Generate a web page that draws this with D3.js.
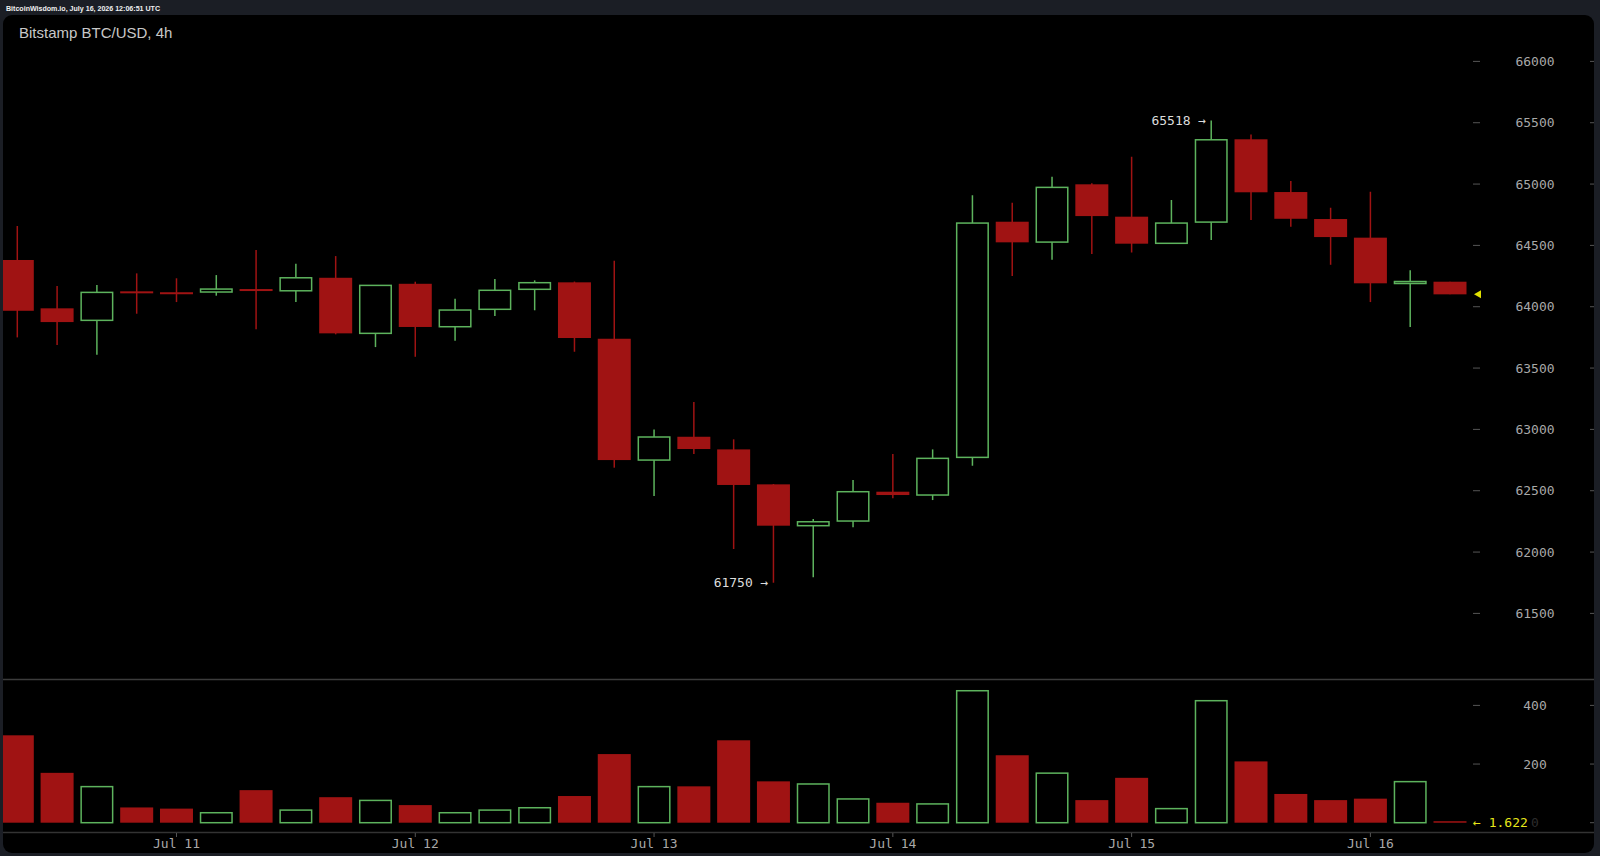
<!DOCTYPE html>
<html><head><meta charset="utf-8">
<script src="https://cdn.jsdelivr.net/npm/d3@7"></script>
<style>
html,body{margin:0;padding:0;background:#1b1e25;}
svg{display:block;}
</style></head>
<body>
<svg id="c" width="1600" height="856"></svg>
<script>
// ---- data (4h candles, Bitstamp BTC/USD) ----
const opens  = [64381,63987,63889,64120,64112,64120,64138,64130,64236,63783,64187,63837,63979,64142,64199,63739,62750,62940,62837,62552,62215,62253,62492,62465,62772,64693,64527,64998,64734,64517,64690,65365,64935,64715,64563,64195,64204];
const highs  = [64658,64169,64177,64272,64232,64258,64462,64350,64413,64174,64204,64065,64226,64215,64205,64375,63000,63223,62919,62555,62269,62587,62799,62837,64908,64848,65060,65006,65223,64870,65518,65405,65025,64807,64937,64297,64204];
const lows   = [63750,63688,63609,63943,64038,64090,63816,64038,63775,63671,63592,63723,63924,63971,63633,62688,62457,62799,62025,61750,61794,62202,62438,62424,62704,64250,64383,64430,64443,64517,64544,64707,64652,64342,64038,63835,64101];
const closes = [63967,63875,64117,64115,64108,64144,64134,64236,63783,64174,63835,63973,64134,64196,63745,62750,62938,62840,62547,62215,62247,62492,62465,62764,64682,64525,64973,64739,64514,64682,65361,64933,64717,64568,64191,64200,64101];
const volumes = [298,170,123,52,48,34,111,43,87,76,60,34,43,51,91,234,123,124,281,141,132,81,68,64,450,230,169,77,153,48,416,209,98,77,82,140,1.622];
const dayLabels = ["Jul 11","Jul 12","Jul 13","Jul 14","Jul 15","Jul 16"];
const dayIndex  = [4,10,16,22,28,34];
const priceTicks = [61500,62000,62500,63000,63500,64000,64500,65000,65500,66000];
const volTicks = [0,200,400];
const headerText = "BitcoinWisdom.io, July 16, 2026 12:06:51 UTC";
const titleText = "Bitstamp BTC/USD, 4h";
const maxLabel = "65518 →";
const minLabel = "61750 →";
const lastVolLabel = "← 1.622";

const RED = "#a01313", GREEN = "#5db35d";
const svg = d3.select("#c");
const mono = "'DejaVu Sans Mono', monospace";

svg.append("defs").append("clipPath").attr("id","panel")
  .append("rect").attr("x",3).attr("y",15).attr("width",1591).attr("height",838).attr("rx",9);

// background panel
svg.append("rect").attr("x",0).attr("y",0).attr("width",1600).attr("height",856).attr("fill","#1b1e25");
svg.append("rect").attr("x",3).attr("y",15).attr("width",1591).attr("height",838).attr("rx",9).attr("fill","#000");

svg.append("text").attr("x",6).attr("y",10.5).attr("fill","#f0f0f0")
  .attr("font-family","'Liberation Sans', Arial, sans-serif").attr("font-weight","bold")
  .attr("font-size",7.5).attr("textLength",154).attr("lengthAdjust","spacingAndGlyphs").text(headerText);
svg.append("text").attr("x",19).attr("y",38).attr("fill","#c8c8c8")
  .attr("font-family","'Liberation Sans', Arial, sans-serif").attr("font-size",15).text(titleText);

const g = svg.append("g").attr("clip-path","url(#panel)");

// scales
const n = opens.length;
const x = d3.scaleLinear().domain([0, n-1]).range([17.3, 1450]);
const bw = 33;
const y = d3.scaleLinear().domain([61500,66000]).range([613.4,61.4]);
const yv = d3.scaleLinear().domain([0,400]).range([822.7,705.4]);

// separators
g.append("line").attr("x1",3).attr("x2",1594).attr("y1",679.5).attr("y2",679.5).attr("stroke","#3c3c3c").attr("stroke-width",1.5);
g.append("line").attr("x1",3).attr("x2",1594).attr("y1",832.5).attr("y2",832.5).attr("stroke","#333").attr("stroke-width",1.5);

// price axis (right)
const pAxis = g.append("g");
priceTicks.forEach(t=>{
  pAxis.append("line").attr("x1",1473).attr("x2",1480).attr("y1",y(t)).attr("y2",y(t)).attr("stroke","#555");
  pAxis.append("line").attr("x1",1590).attr("x2",1596).attr("y1",y(t)).attr("y2",y(t)).attr("stroke","#555");
  pAxis.append("text").attr("x",1535).attr("y",y(t)+4.5).attr("text-anchor","middle")
    .attr("font-family",mono).attr("font-size",13).attr("fill","#a8a8a8").text(t);
});
const vAxis = g.append("g");
volTicks.forEach(t=>{
  if(t>0) vAxis.append("line").attr("x1",1473).attr("x2",1480).attr("y1",yv(t)).attr("y2",yv(t)).attr("stroke","#555");
  vAxis.append("line").attr("x1",1590).attr("x2",1596).attr("y1",yv(t)).attr("y2",yv(t)).attr("stroke","#555");
  vAxis.append("text").attr("x",1535).attr("y",yv(t)+4.5).attr("text-anchor","middle")
    .attr("font-family",mono).attr("font-size",13).attr("fill", t===0?"#2c2c2c":"#a8a8a8").text(t);
});

// x axis labels
dayIndex.forEach((di,k)=>{
  g.append("line").attr("x1",x(di)).attr("x2",x(di)).attr("y1",833).attr("y2",837).attr("stroke","#555");
  g.append("text").attr("x",x(di)).attr("y",847.5).attr("text-anchor","middle")
    .attr("font-family",mono).attr("font-size",13).attr("fill","#a8a8a8").text(dayLabels[k]);
});

const idx = d3.range(n);
const up = i => closes[i] > opens[i];

// wicks
g.append("g").selectAll("line").data(idx).join("line")
  .attr("x1",i=>x(i)).attr("x2",i=>x(i))
  .attr("y1",i=>y(highs[i])).attr("y2",i=>y(lows[i]))
  .attr("stroke",i=>up(i)?GREEN:RED).attr("stroke-width",1.5);

// bodies
g.append("g").selectAll("rect").data(idx).join("rect")
  .attr("x",i=> up(i) ? x(i)-bw/2+0.75 : x(i)-bw/2)
  .attr("width",i=> up(i) ? bw-1.5 : bw)
  .attr("y",i=>{const t=y(Math.max(opens[i],closes[i])); const h=y(Math.min(opens[i],closes[i]))-t; return h<2? t-(2-h)/2 : t;})
  .attr("height",i=>Math.max(2, y(Math.min(opens[i],closes[i]))-y(Math.max(opens[i],closes[i]))))
  .attr("fill",i=>up(i)?"#000":RED)
  .attr("stroke",i=>up(i)?GREEN:"none").attr("stroke-width",1.5);

// volume bars
g.append("g").selectAll("rect").data(idx).join("rect")
  .attr("x",i=> up(i) ? x(i)-bw/2+0.75 : x(i)-bw/2)
  .attr("width",i=> up(i) ? bw-1.5 : bw)
  .attr("y",i=>yv(volumes[i]) - (volumes[i]<5?1:0))
  .attr("height",i=>Math.max(1.5, yv(0)-yv(volumes[i])))
  .attr("fill",i=>up(i)?"#000":RED)
  .attr("stroke",i=>up(i)?GREEN:"none").attr("stroke-width",1.5);

// annotations
const iMax = d3.maxIndex(highs), iMin = d3.minIndex(lows);
g.append("text").attr("x",x(iMax)-5).attr("y",y(highs[iMax])+4).attr("text-anchor","end")
  .attr("font-family",mono).attr("font-size",13).attr("fill","#dcdcdc").text(maxLabel);
g.append("text").attr("x",x(iMin)-5).attr("y",y(lows[iMin])+4).attr("text-anchor","end")
  .attr("font-family",mono).attr("font-size",13).attr("fill","#dcdcdc").text(minLabel);

// current price marker
const yc = y(closes[n-1]);
g.append("path").attr("d",`M1474,${yc} L1481,${yc-4} L1481,${yc+4} Z`).attr("fill","#e0e000");
g.append("text").attr("x",1473).attr("y",yv(0)+4.5)
  .attr("font-family",mono).attr("font-size",13).attr("fill","#e6e61a").text(lastVolLabel);
</script>
</body></html>
